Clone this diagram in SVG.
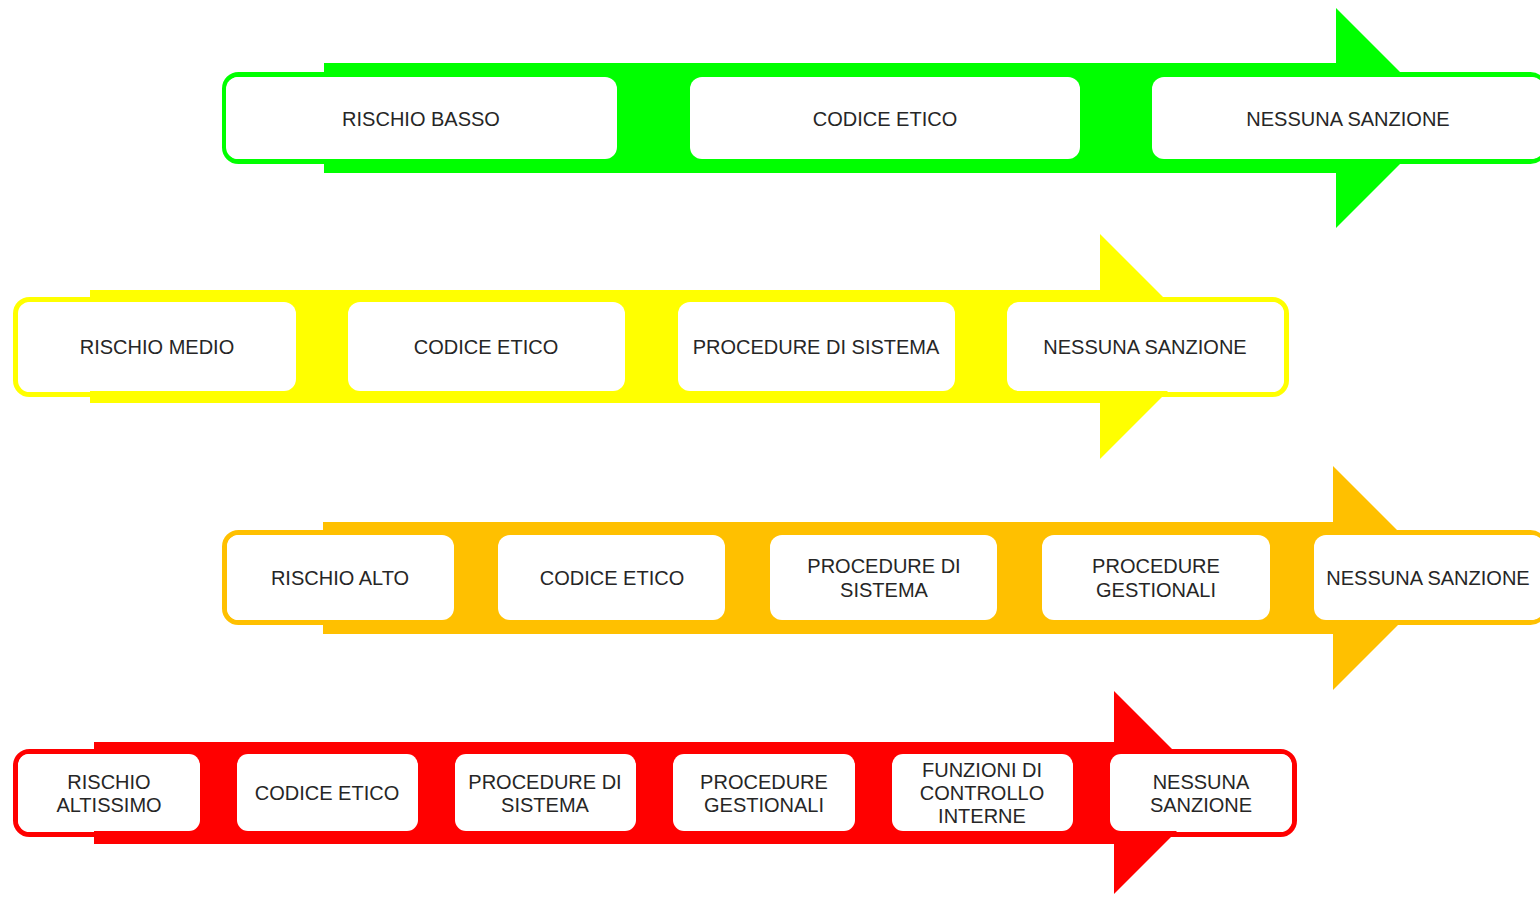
<svg xmlns="http://www.w3.org/2000/svg" width="1540" height="897" viewBox="0 0 1540 897">
<style>
.box{fill:#fff;}
.frame{fill:none;stroke-width:5;}
text{font-family:"Liberation Sans",Arial,sans-serif;font-size:20px;fill:#262626;text-anchor:middle;}
</style>
<rect width="1540" height="897" fill="#fff"/>
<g id="row-green">
<polygon points="324,63 1336,63 1336,8 1446,118 1336,228 1336,173 324,173" fill="#00FF00"/>
<rect class="frame" x="224.5" y="74.5" width="1320" height="87" rx="14" stroke="#00FF00"/>
<g id="g1"><rect class="box" x="226" y="77" width="391" height="82" rx="12"/><text x="421" y="126">RISCHIO BASSO</text></g>
<g id="g2"><rect class="box" x="690" y="77" width="390" height="82" rx="12"/><text x="885" y="126">CODICE ETICO</text></g>
<g id="g3"><rect class="box" x="1152" y="77" width="392" height="82" rx="12"/><text x="1348" y="126">NESSUNA SANZIONE</text></g>
</g>
<g id="row-yellow">
<polygon points="90,290 1100,290 1100,234 1212.5,346.5 1100,459 1100,403 90,403" fill="#FFFF00"/>
<rect class="frame" x="15.5" y="299.5" width="1271" height="95" rx="14" stroke="#FFFF00"/>
<g id="y1"><rect class="box" x="19" y="302" width="277" height="89" rx="12"/><text x="157" y="354">RISCHIO MEDIO</text></g>
<g id="y2"><rect class="box" x="348" y="302" width="277" height="89" rx="12"/><text x="486" y="354">CODICE ETICO</text></g>
<g id="y3"><rect class="box" x="678" y="302" width="277" height="89" rx="12"/><text x="816" y="354">PROCEDURE DI SISTEMA</text></g>
<g id="y4"><rect class="box" x="1007" y="302" width="277" height="89" rx="12"/><text x="1145" y="354">NESSUNA SANZIONE</text></g>
</g>
<g id="row-orange">
<polygon points="323,522 1333,522 1333,466 1445,578 1333,690 1333,634 323,634" fill="#FFC000"/>
<rect class="frame" x="224.5" y="532.5" width="1320" height="90" rx="14" stroke="#FFC000"/>
<g id="o1"><rect class="box" x="227" y="535" width="227" height="85" rx="12"/><text x="340" y="585">RISCHIO ALTO</text></g>
<g id="o2"><rect class="box" x="498" y="535" width="227" height="85" rx="12"/><text x="612" y="585">CODICE ETICO</text></g>
<g id="o3"><rect class="box" x="770" y="535" width="227" height="85" rx="12"/><text x="884" y="573">PROCEDURE DI</text><text x="884" y="597">SISTEMA</text></g>
<g id="o4"><rect class="box" x="1042" y="535" width="228" height="85" rx="12"/><text x="1156" y="573">PROCEDURE</text><text x="1156" y="597">GESTIONALI</text></g>
<g id="o5"><rect class="box" x="1314" y="535" width="230" height="85" rx="12"/><text x="1428" y="585">NESSUNA SANZIONE</text></g>
</g>
<g id="row-red">
<polygon points="94,742 1114,742 1114,691 1215.5,792.5 1114,894 1114,844 94,844" fill="#FF0000"/>
<rect class="frame" x="15.5" y="751.5" width="1279" height="83" rx="14" stroke="#FF0000"/>
<g id="r1"><rect class="box" x="18" y="754" width="182" height="77" rx="11"/><text x="109" y="789">RISCHIO</text><text x="109" y="812">ALTISSIMO</text></g>
<g id="r2"><rect class="box" x="237" y="754" width="181" height="77" rx="11"/><text x="327" y="800">CODICE ETICO</text></g>
<g id="r3"><rect class="box" x="455" y="754" width="181" height="77" rx="11"/><text x="545" y="789">PROCEDURE DI</text><text x="545" y="812">SISTEMA</text></g>
<g id="r4"><rect class="box" x="673" y="754" width="182" height="77" rx="11"/><text x="764" y="789">PROCEDURE</text><text x="764" y="812">GESTIONALI</text></g>
<g id="r5"><rect class="box" x="892" y="754" width="181" height="77" rx="11"/><text x="982" y="777">FUNZIONI DI</text><text x="982" y="800">CONTROLLO</text><text x="982" y="823">INTERNE</text></g>
<g id="r6"><rect class="box" x="1110" y="754" width="182" height="77" rx="11"/><text x="1201" y="789">NESSUNA</text><text x="1201" y="812">SANZIONE</text></g>
</g>
<g id="connectors"></g>
</svg>
